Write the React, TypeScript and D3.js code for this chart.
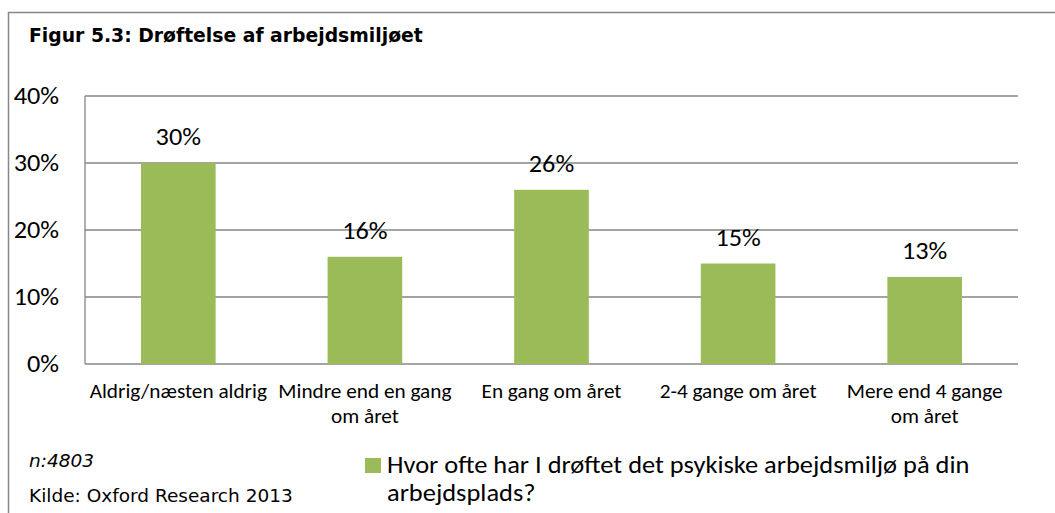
import React from "react";
import * as d3 from "d3";

const categories: string[][] = [
  ["Aldrig/næsten aldrig"],
  ["Mindre end en gang", "om året"],
  ["En gang om året"],
  ["2-4 gange om året"],
  ["Mere end 4 gange", "om året"],
];
const values: number[] = [0.30, 0.16, 0.26, 0.15, 0.13];
const yTicks: number[] = [0, 0.1, 0.2, 0.3, 0.4];
const title = "Figur 5.3: Drøftelse af arbejdsmiljøet";
const legendLines = ["Hvor ofte har I drøftet det psykiske arbejdsmiljø på din", "arbejdsplads?"];
const noteN = "n:4803";
const source = "Kilde: Oxford Research 2013";

const W = 1055;
const H = 513;
const plot = { left: 85, right: 1018, top: 96, bottom: 364 };
const green = "#9BBB59";
const grid = "#868686";
const calibri = "Carlito, Lato, 'Open Sans', sans-serif";
const verdana = "'DejaVu Sans', Verdana, sans-serif";
const SX = 1.085;

function T(props: { x: number; y: number; size: number; anchor?: string; lines: string[]; lh: number; sx?: number }) {
  return (
    <g transform={`translate(${props.x},${props.y}) scale(${props.sx || SX},1)`}>
      <text x={0} y={0} textAnchor={props.anchor || "start"} fontFamily={calibri} fontSize={props.size} fill="#000">
        {props.lines.map((ln, j) => (
          <tspan key={j} x={0} y={j * props.lh}>
            {ln}
          </tspan>
        ))}
      </text>
    </g>
  );
}

export default function App() {
  const x = d3
    .scaleBand<number>()
    .domain(d3.range(categories.length))
    .range([plot.left, plot.right])
    .paddingInner(0.6)
    .paddingOuter(0.3);
  const y = d3.scaleLinear().domain([0, 0.4]).range([plot.bottom, plot.top]);
  const fmt = d3.format(".0%");
  const bw = x.bandwidth();
  const catCenter = (i: number) => (x(i) as number) + bw / 2;

  return (
    <svg width={W} height={H} style={{ position: "absolute", left: 0, top: 0, background: "#fff" }}>
      <rect x={8.5} y={12.5} width={W + 10} height={H + 20} fill="#fff" stroke={grid} strokeWidth={1.5} />
      <text x={29} y={42} fontFamily={verdana} fontWeight="bold" fontSize={18.8} fill="#000">
        {title}
      </text>
      {yTicks.map((t) => (
        <g key={t}>
          <line x1={plot.left} x2={plot.right} y1={y(t)} y2={y(t)} stroke={grid} strokeWidth={1.3} />
          <T x={59} y={y(t) + 8} size={24.2} anchor="end" lines={[fmt(t)]} lh={0} />
        </g>
      ))}
      <line x1={plot.left} x2={plot.left} y1={plot.top} y2={plot.bottom} stroke={grid} strokeWidth={1.3} />
      {values.map((v, i) => (
        <g key={i}>
          <rect x={catCenter(i) - bw / 2} y={y(v)} width={bw} height={y(0) - y(v)} fill={green} />
          <T x={catCenter(i)} y={y(v) - 18} size={24.2} anchor="middle" lines={[fmt(v)]} lh={0} />
          <T x={catCenter(i)} y={398} size={19.6} anchor="middle" lines={categories[i]} lh={25} />
        </g>
      ))}
      <text x={29} y={467} fontFamily={verdana} fontStyle="italic" fontSize={18.5} fill="#000">
        {noteN}
      </text>
      <text x={29} y={502} fontFamily={verdana} fontSize={18.5} fill="#000">
        {source}
      </text>
      <rect x={365} y={458} width={16} height={15} fill={green} />
      <T x={387} y={473} size={23.6} sx={1.12} lines={legendLines} lh={28} />
    </svg>
  );
}
